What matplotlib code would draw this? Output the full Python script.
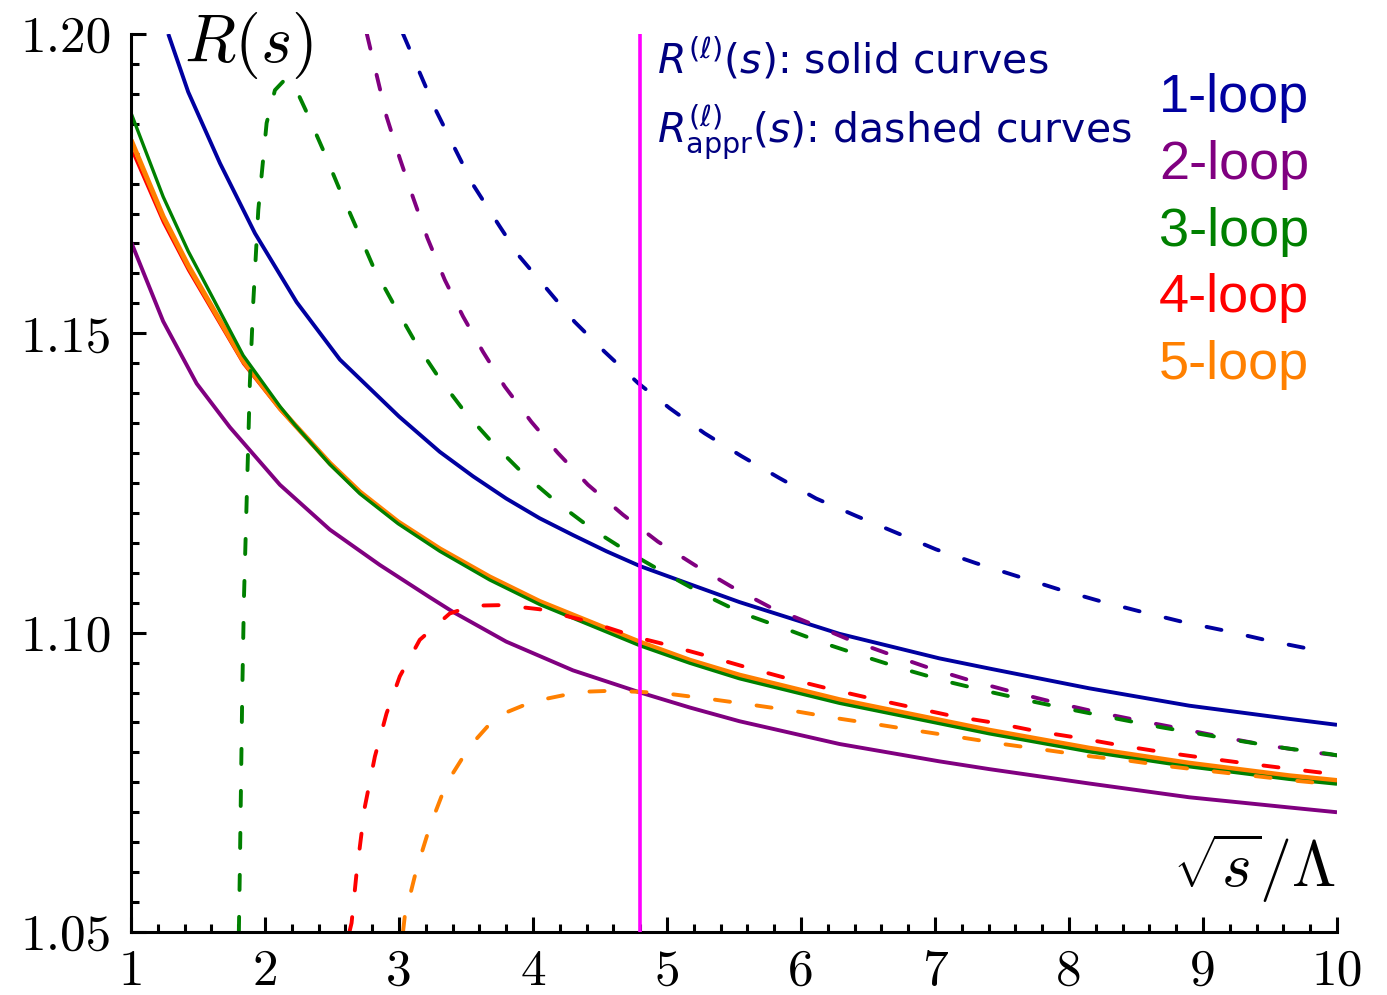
import matplotlib
matplotlib.use("Agg")
import matplotlib.pyplot as plt
from matplotlib.ticker import FixedLocator, FixedFormatter, MultipleLocator

# ---------------- data ----------------
# solid curves R^(l)(s)
x_1loop = [1.278, 1.427, 1.664, 1.925, 2.236, 2.559, 3.0, 3.304, 3.553, 3.80, 4.05, 4.298,
           4.547, 4.80, 5.169, 5.541, 6.287, 7.033, 7.406, 8.151, 8.897, 9.643, 10.0]
y_1loop = [1.2000, 1.1903, 1.1784, 1.1667, 1.1552, 1.1456, 1.1361, 1.1302, 1.1261, 1.1224, 1.1191, 1.1163,
           1.1136, 1.1111, 1.1081, 1.1051, 1.0998, 1.0957, 1.0940, 1.0907, 1.0878, 1.0856, 1.0846]

x_2loop = [1.0, 1.24, 1.49, 1.738, 2.111, 2.484, 2.857, 3.23, 3.40, 3.80, 4.298, 4.80, 5.169, 5.541,
           6.287, 7.033, 7.406, 8.151, 8.897, 9.643, 10.0]
y_2loop = [1.1653, 1.1520, 1.1416, 1.1343, 1.1247, 1.1172, 1.1113, 1.1059, 1.1035, 1.0985, 1.0937, 1.0900,
           1.0875, 1.0852, 1.0814, 1.0785, 1.0772, 1.0748, 1.0725, 1.0708, 1.0700]

x_3loop = [1.0, 1.24, 1.427, 1.837, 2.111, 2.223, 2.484, 2.708, 2.993, 3.304, 3.677, 4.05, 4.80,
           5.169, 5.541, 6.287, 7.033, 7.406, 8.151, 8.897, 9.643, 10.0]
y_3loop = [1.1868, 1.1728, 1.1637, 1.1463, 1.1378, 1.1347, 1.1281, 1.1232, 1.1182, 1.1136, 1.1088, 1.1047, 1.0978,
           1.0949, 1.0923, 1.0882, 1.0848, 1.0831, 1.0801, 1.0776, 1.0755, 1.0747]

x_4loop = [1.0, 1.24, 1.427, 1.837, 2.111, 2.223, 2.484, 2.708, 2.993, 3.304, 3.677, 4.05, 4.80,
           5.169, 5.541, 6.287, 7.033, 7.406, 8.151, 8.897, 9.643, 10.0]
y_4loop = [1.1808, 1.1685, 1.1605, 1.1449, 1.1372, 1.1345, 1.1281, 1.1233, 1.1183, 1.1138, 1.1091, 1.1050, 1.0982,
           1.0952, 1.0927, 1.0886, 1.0852, 1.0835, 1.0805, 1.0780, 1.0759, 1.0751]

x_5loop = [1.0, 1.24, 1.427, 1.837, 2.111, 2.223, 2.484, 2.708, 2.993, 3.304, 3.677, 4.05, 4.80,
           5.169, 5.541, 6.287, 7.033, 7.406, 8.151, 8.897, 9.643, 10.0]
y_5loop = [1.1823, 1.1695, 1.1613, 1.1454, 1.1375, 1.1347, 1.1283, 1.1235, 1.1185, 1.1140, 1.1093, 1.1052, 1.0984,
           1.0954, 1.0929, 1.0888, 1.0854, 1.0837, 1.0807, 1.0782, 1.0761, 1.0753]

# dashed curves R^(l)_appr(s)
xa_1loop = [3.03, 3.274, 3.416, 3.553, 3.75, 3.90, 4.10, 4.311, 4.535, 4.783, 5.019, 5.28, 5.554, 5.84,
            6.113, 6.411, 6.71, 7.008, 7.306, 7.617, 7.928, 8.226, 8.537, 8.847, 9.17, 9.48, 9.792, 9.87]
ya_1loop = [1.2000, 1.1873, 1.1809, 1.1748, 1.1679, 1.1628, 1.1575, 1.1519, 1.1469, 1.1417, 1.1375, 1.1333, 1.1295, 1.1258,
            1.1224, 1.1195, 1.1167, 1.1139, 1.1116, 1.1094, 1.1072, 1.1053, 1.1035, 1.1018, 1.1003, 1.0987, 1.0973, 1.0969]

xa_2loop = [2.76, 2.907, 3.006, 3.106, 3.212, 3.342, 3.478, 3.627, 3.789, 3.988, 4.186, 4.41, 4.671,
            4.932, 5.206, 5.479, 5.765, 6.063, 6.362, 6.672, 6.97, 7.28, 7.58, 7.90, 8.213, 8.524,
            8.847, 9.158, 9.469, 9.792, 10.0]
ya_2loop = [1.2000, 1.1862, 1.1792, 1.1726, 1.1659, 1.1589, 1.1528, 1.1469, 1.1411, 1.1352, 1.1300, 1.1247, 1.1197,
            1.1152, 1.1113, 1.1077, 1.1043, 1.1016, 1.0988, 1.0963, 1.0940, 1.0919, 1.0901, 1.0883, 1.0867, 1.0853,
            1.0839, 1.0825, 1.0812, 1.0801, 1.0795]

xa_3loop = [1.805, 1.812, 1.83, 1.843, 1.873, 1.887, 1.912, 1.95, 2.012, 2.074, 2.15, 2.22, 2.303, 2.434, 2.559,
            2.688, 2.812, 2.969, 3.13, 3.30, 3.49, 3.702, 3.925, 4.186, 4.447, 4.708, 4.995, 5.28,
            5.566, 5.877, 6.175, 6.474, 6.784, 7.095, 7.43, 7.728, 8.05, 8.363, 8.686, 8.997,
            9.307, 9.618, 9.953, 10.0]
ya_3loop = [1.0500, 1.0600, 1.0896, 1.1058, 1.1300, 1.1417, 1.1550, 1.1706, 1.1851, 1.1906, 1.1924, 1.1913, 1.1873,
            1.1806, 1.1739, 1.1673, 1.1609, 1.1545, 1.1482, 1.1425, 1.1369, 1.1316, 1.1266, 1.1216, 1.1172, 1.1135,
            1.1098, 1.1063, 1.1032, 1.1007, 1.0982, 1.0960, 1.0938, 1.0918, 1.0900, 1.0885, 1.0870, 1.0856, 1.0842,
            1.0830, 1.0818, 1.0807, 1.0797, 1.0795]

xa_4loop = [2.63, 2.646, 2.683, 2.745, 2.82, 2.907, 3.006, 3.155, 3.379, 3.553, 3.777, 4.05, 4.423,
            4.796, 4.957, 5.268, 5.579, 5.89, 6.213, 6.524, 6.834, 7.145, 7.455, 7.766, 8.077, 8.4,
            8.711, 9.034, 9.345, 9.667, 10.0]
ya_4loop = [1.0500, 1.0515, 1.0598, 1.0709, 1.0793, 1.0865, 1.0927, 1.0988, 1.1032, 1.1045, 1.1046, 1.1039, 1.1018,
            1.0991, 1.0982, 1.0963, 1.0943, 1.0924, 1.0906, 1.0890, 1.0875, 1.0860, 1.0849, 1.0835, 1.0824, 1.0811,
            1.0800, 1.0790, 1.0781, 1.0772, 1.0763]

xa_5loop = [3.03, 3.043, 3.13, 3.23, 3.354, 3.528, 3.727, 4.0, 4.348, 4.60, 4.796, 4.97, 5.293, 5.616,
            5.926, 6.237, 6.56, 6.871, 7.194, 7.505, 7.828, 8.139, 8.45, 8.772, 9.083, 9.406,
            9.717, 10.0]
ya_5loop = [1.0500, 1.0526, 1.0604, 1.0676, 1.0748, 1.0810, 1.0860, 1.0885, 1.0901, 1.0903, 1.0901, 1.0899, 1.0890,
            1.0880, 1.0870, 1.0858, 1.0847, 1.0836, 1.0825, 1.0814, 1.0804, 1.0794, 1.0786, 1.0776, 1.0768,
            1.0760, 1.0752, 1.0746]

x_vline = 4.8

loop_labels = ["1-loop", "2-loop", "3-loop", "4-loop", "5-loop"]
colors = ["#0000A0", "#800080", "#008000", "#FF0000", "#FF8000"]

x_ticks = [1, 2, 3, 4, 5, 6, 7, 8, 9, 10]
x_ticklabels = ["1", "2", "3", "4", "5", "6", "7", "8", "9", "10"]
y_ticks = [1.05, 1.10, 1.15, 1.20]
y_ticklabels = ["1.05", "1.10", "1.15", "1.20"]

# ---------------- figure ----------------
W, H = 1387, 995
fig = plt.figure(figsize=(W / 100, H / 100 + 0.001), dpi=100)
ax = fig.add_axes([131 / W, 1 - 932 / H, (1337 - 131) / W, (932 - 34) / H])
ax.set_xlim(1, 10)
ax.set_ylim(1.05, 1.20)

lw = 2.8
dash = (0, (3.9, 6.9))

solid_sets = [(x_2loop, y_2loop, colors[1], lw),
              (x_1loop, y_1loop, colors[0], lw),
              (x_4loop, y_4loop, colors[3], 1.8),
              (x_5loop, y_5loop, colors[4], 3.6),
              (x_3loop, y_3loop, colors[2], 2.4)]
for xs, ys, c, w in solid_sets:
    ax.plot(xs, ys, color=c, lw=w, solid_capstyle="butt", solid_joinstyle="round")

dashed_sets = [(xa_1loop, ya_1loop, colors[0]),
               (xa_2loop, ya_2loop, colors[1]),
               (xa_3loop, ya_3loop, colors[2]),
               (xa_4loop, ya_4loop, colors[3]),
               (xa_5loop, ya_5loop, colors[4])]
for xs, ys, c in dashed_sets:
    ax.plot(xs, ys, color=c, lw=lw, linestyle=dash, dash_capstyle="round",
            dash_joinstyle="round")

ax.axvline(x_vline, color="#FF00FF", lw=2.6, zorder=5)

# axes styling: only left/bottom frame, inward ticks
for s in ["top", "right"]:
    ax.spines[s].set_visible(False)
for s in ["left", "bottom"]:
    ax.spines[s].set_linewidth(2.2)

ax.xaxis.set_major_locator(FixedLocator(x_ticks))
ax.xaxis.set_major_formatter(FixedFormatter(x_ticklabels))
ax.xaxis.set_minor_locator(MultipleLocator(0.2))
ax.yaxis.set_major_locator(FixedLocator(y_ticks))
ax.yaxis.set_major_formatter(FixedFormatter(y_ticklabels))
ax.yaxis.set_minor_locator(MultipleLocator(0.005))
ax.tick_params(axis="both", which="major", direction="in", length=11, width=2.2,
               color="black", top=False, right=False)
ax.tick_params(axis="both", which="minor", direction="in", length=6, width=2.2,
               color="black", top=False, right=False)
ax.tick_params(axis="x", which="major", pad=12)
ax.tick_params(axis="y", which="major", pad=14)
for lab in ax.get_xticklabels() + ax.get_yticklabels():
    lab.set_fontfamily("cmr10")
    lab.set_fontsize(37)

# axis "labels" placed inside the frame
fig.text(184 / W, 1 - 62 / H, r"$R(s)$", fontsize=48, math_fontfamily="cm",
         ha="left", va="baseline")
fig.text(1336 / W, 1 - 887 / H, r"$\sqrt{s}/\Lambda$", fontsize=46, math_fontfamily="cm",
         ha="right", va="baseline")

navy = "#000080"
fig.text(657 / W, 1 - 73 / H, r"$R^{(\ell)}(s)$: solid curves", fontsize=29.5,
         color=navy, math_fontfamily="dejavusans", ha="left", va="baseline")
fig.text(657 / W, 1 - 143 / H, r"$R^{(\ell)}_{\mathrm{appr}}(s)$: dashed curves", fontsize=29.5,
         color=navy, math_fontfamily="dejavusans", ha="left", va="baseline")

baselines = [112, 179, 246, 312, 379]
for lab, c, b in zip(loop_labels, colors, baselines):
    fig.text(1309 / W, 1 - b / H, lab, fontsize=39, color=c, family="Liberation Sans",
             ha="right", va="baseline")

fig.savefig("out.png", dpi=100)
